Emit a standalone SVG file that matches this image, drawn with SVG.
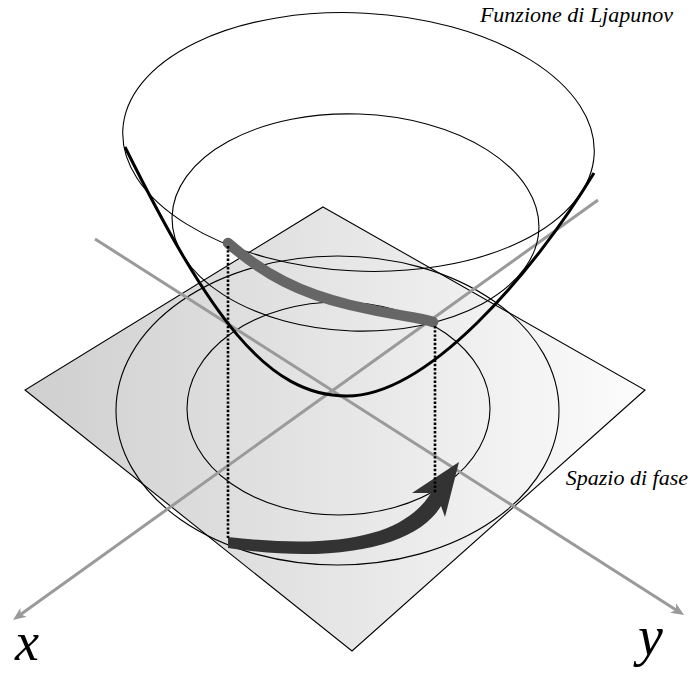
<svg xmlns="http://www.w3.org/2000/svg" width="693" height="673" viewBox="0 0 693 673">
  <defs>
    <linearGradient id="planeGrad" gradientUnits="userSpaceOnUse" x1="25" y1="0" x2="645" y2="0">
      <stop offset="0" stop-color="#cfcfcf"/>
      <stop offset="1" stop-color="#fcfcfc"/>
    </linearGradient>
    <marker id="axisHead" markerUnits="userSpaceOnUse" markerWidth="20" markerHeight="14" viewBox="-6 -7 20 14" refX="0" refY="0" orient="auto">
      <path d="M-5,-5.5 L8,0 L-5,5.5 L-1.5,0 Z" fill="#9a9a9a"/>
    </marker>
    <style>
      .level { fill: none; stroke: #000; stroke-width: 1.1; }
      .axis { fill: none; stroke: #9a9a9a; stroke-width: 3; }
      .drop { fill: none; stroke: #000; stroke-width: 2.6; stroke-dasharray: 2.4 1.8; }
      .label { font-family: "Liberation Serif", "Times New Roman", serif; font-style: italic; fill: #000; }
    </style>
  </defs>

  <g id="phase-plane">
    <polygon points="323,207 645,390 352,651 25,390" fill="url(#planeGrad)" stroke="#000" stroke-width="1.1"/>
    <ellipse class="level" cx="337.5" cy="410.5" rx="221.5" ry="154.5"/>
    <ellipse class="level" cx="338.5" cy="408.5" rx="151.5" ry="106.5"/>
  </g>

  <g id="connectors">
    <line class="axis" x1="598" y1="200" x2="19.5" y2="615.3" marker-end="url(#axisHead)"/>
    <line class="axis" x1="95" y1="239" x2="677.3" y2="610.7" marker-end="url(#axisHead)"/>
  </g>

  <g id="lyapunov-function">
    <path d="M125,147 C210,318 267,396 347,396 C427,396 532,275 594,173" fill="none" stroke="#000" stroke-width="3"/>
    <ellipse class="level" cx="358.5" cy="142" rx="236" ry="129" transform="rotate(3 358.5 142)"/>
    <ellipse class="level" cx="355.5" cy="222.5" rx="183.5" ry="108.5" transform="rotate(2 355.5 222.5)"/>
  </g>

  <g id="trajectory-lifted">
    <path d="M228,243 C265,275 300,293 350,305 S415,316 433,322" fill="none" stroke="#666" stroke-width="10.5" stroke-linecap="round"/>
  </g>

  <g id="trajectory-phase">
    <path d="M228,537 C340,550 405,535 431,493 L412,493 L459,462 L445,517 L441,506 C418,545 340,565 228,548 Z" fill="#333"/>
  </g>

  <g id="projections">
    <line class="drop" x1="228" y1="246" x2="228" y2="538"/>
    <line class="drop" x1="435" y1="326" x2="435" y2="493"/>
  </g>

  <g id="labels">
    <text class="label" x="673" y="22" font-size="22" text-anchor="end">Funzione di Ljapunov</text>
    <text class="label" x="688" y="485" font-size="22" text-anchor="end">Spazio di fase</text>
    <text class="label" x="15" y="660" font-size="54">x</text>
    <text class="label" x="638" y="655" font-size="56">y</text>
  </g>
</svg>
